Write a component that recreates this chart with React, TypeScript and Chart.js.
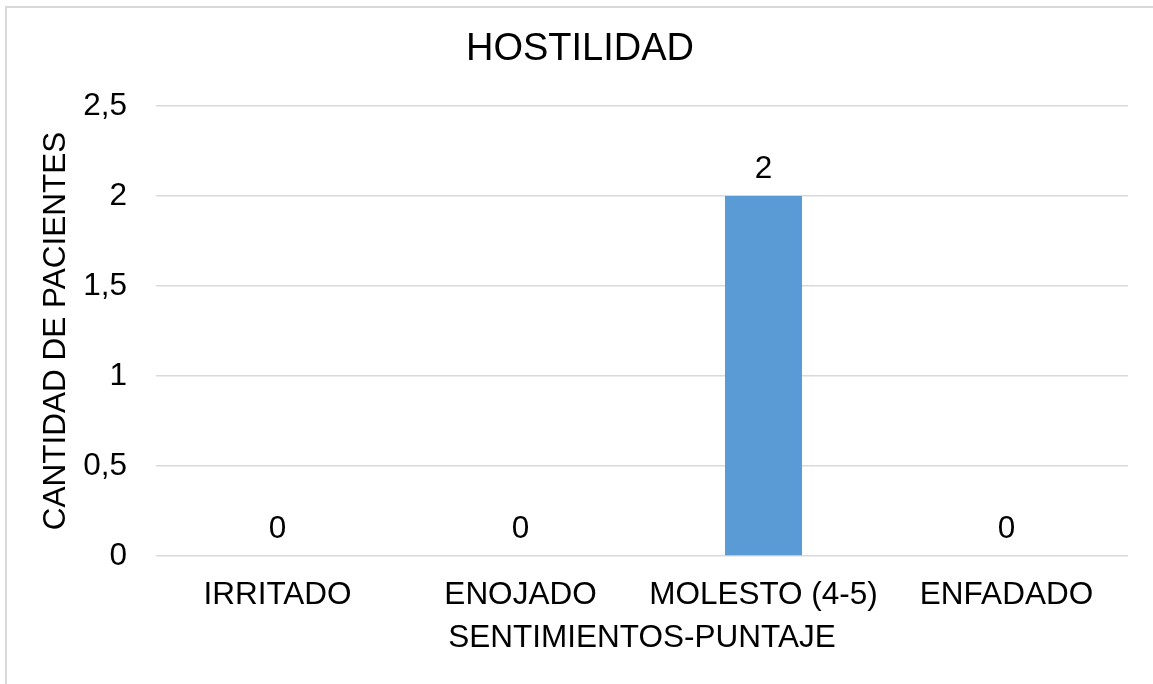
import React, { useEffect, useRef } from "react";
import { Chart, registerables } from "chart.js";

Chart.register(...registerables);

const titleText = "HOSTILIDAD";
const categories = ["IRRITADO", "ENOJADO", "MOLESTO (4-5)", "ENFADADO"];
const values = [0, 0, 2, 0];
const yTicks = [0, 0.5, 1, 1.5, 2, 2.5];
const xAxisTitle = "SENTIMIENTOS-PUNTAJE";
const yAxisTitle = "CANTIDAD DE PACIENTES";

const FONT = "'Liberation Sans', Arial, sans-serif";
const fmt = (v: number) => String(v).replace(".", ",");

const valueLabels = {
  id: "valueLabels",
  afterDatasetsDraw(chart: any) {
    const ctx = chart.ctx;
    const meta = chart.getDatasetMeta(0);
    ctx.save();
    ctx.font = `31.5px ${FONT}`;
    ctx.fillStyle = "#000000";
    ctx.textAlign = "center";
    ctx.textBaseline = "middle";
    meta.data.forEach((el: any, i: number) => {
      const v = chart.data.datasets[0].data[i];
      ctx.fillText(fmt(v), el.x, el.y - 27);
    });
    ctx.restore();
  },
};

const centeredTitle = {
  id: "centeredTitle",
  afterDraw(chart: any) {
    const ctx = chart.ctx;
    ctx.save();
    ctx.font = `38px ${FONT}`;
    ctx.fillStyle = "#000000";
    ctx.textAlign = "center";
    ctx.textBaseline = "middle";
    ctx.fillText(titleText, 580, 50);
    ctx.restore();
  },
};

export default function App() {
  const ref = useRef<HTMLCanvasElement>(null);
  useEffect(() => {
    if (!ref.current) return;
    const chart = new Chart(ref.current, {
      type: "bar",
      data: {
        labels: categories,
        datasets: [
          {
            data: values,
            backgroundColor: "#5b9bd5",
            borderWidth: 0,
            categoryPercentage: 1,
            barPercentage: 0.317,
          },
        ],
      },
      options: {
        responsive: false,
        animation: false,
        layout: { padding: { left: 0, right: 25, top: 106, bottom: 0 } },
        plugins: {
          legend: { display: false },
          tooltip: { enabled: false },
          title: { display: false },
        },
        scales: {
          x: {
            grid: { display: false, drawTicks: false },
            border: { display: false },
            ticks: {
              color: "#000000",
              font: { family: FONT, size: 31.5 },
              padding: 20,
              maxRotation: 0,
              autoSkip: false,
            },
            title: {
              display: true,
              text: xAxisTitle,
              color: "#000000",
              font: { family: FONT, size: 31.5 },
              padding: { top: 0, bottom: 27 },
            },
            afterFit(scale: any) {
              scale.height = 684 - 556;
            },
          },
          y: {
            min: 0,
            max: 2.5,
            grid: { color: "#d9d9d9", lineWidth: 1.5, drawTicks: false },
            border: { display: false },
            afterBuildTicks(scale: any) {
              scale.ticks = yTicks.map((v) => ({ value: v }));
            },
            ticks: {
              color: "#000000",
              font: { family: FONT, size: 31.5 },
              padding: 29,
              callback: (v: any) => fmt(Number(v)),
            },
            title: {
              display: true,
              text: yAxisTitle,
              color: "#000000",
              font: { family: FONT, size: 31.5 },
              padding: { top: 37, bottom: 0 },
            },
            afterFit(scale: any) {
              scale.width = 156;
            },
          },
        },
      },
      plugins: [valueLabels, centeredTitle],
    });
    return () => chart.destroy();
  }, []);

  return (
    <div
      style={{
        position: "fixed",
        left: 0,
        top: 0,
        width: 1153,
        height: 684,
        background: "#ffffff",
        overflow: "hidden",
      }}
    >
      <div
        style={{
          position: "absolute",
          left: 5,
          top: 6,
          width: 1200,
          height: 720,
          border: "2px solid #d9d9d9",
          boxSizing: "border-box",
        }}
      />
      <canvas
        ref={ref}
        width={1153}
        height={684}
        style={{ position: "absolute", left: 0, top: 0, width: 1153, height: 684 }}
      />
    </div>
  );
}
